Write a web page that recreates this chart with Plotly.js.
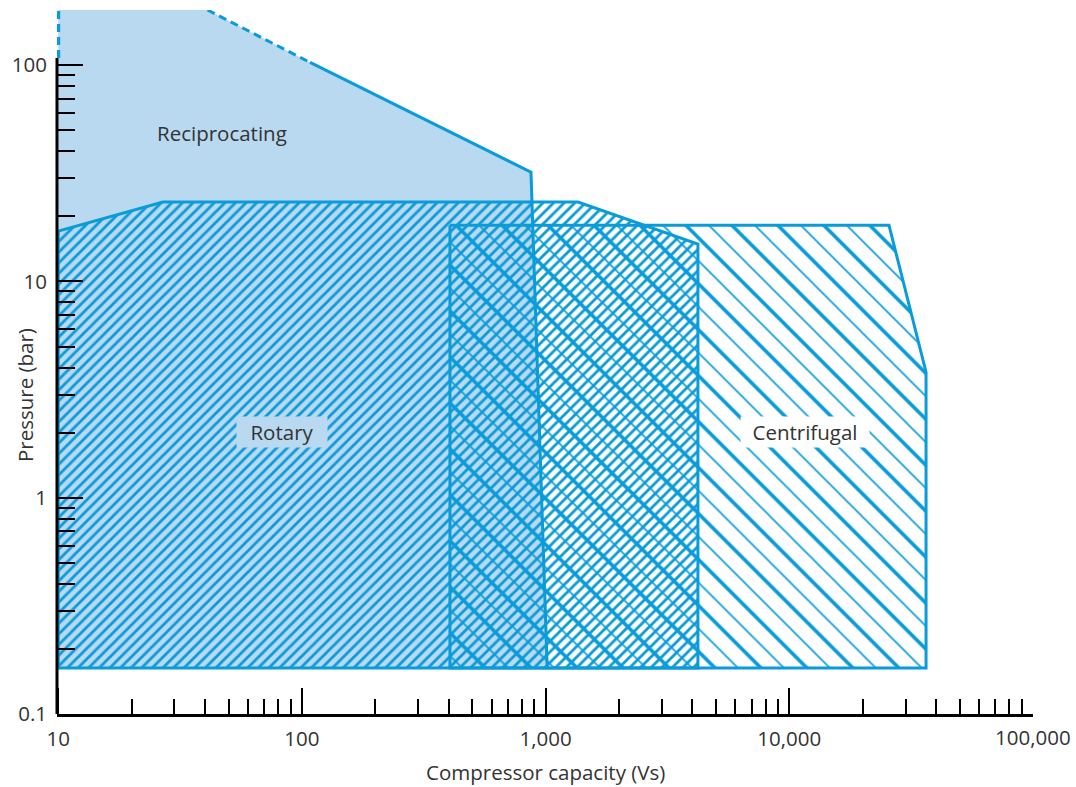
<!DOCTYPE html>
<html><head><meta charset="utf-8">
<script src="https://cdn.plot.ly/plotly-3.0.1.min.js"></script>
<style>html,body{margin:0;padding:0;background:#fff}#chart{width:1076px;height:787px}</style>
</head><body><div id="chart"></div>
<script>
// ---- data ----
// Reciprocating envelope: capacity (Vs) / pressure (bar)
const recipX = [10, 10, 41, 108, 871, 1015];
const recipY = [0.163, 180, 180, 103, 32, 0.163];
const recipLeftLimit = 108;   // pressure where the solid y-axis stops / dashed edge begins

// Rotary envelope
const rotaryX = [10, 26.9, 1358, 4217, 4217, 10, 10];
const rotaryY = [17.1, 23.3, 23.3, 14.9, 0.163, 0.163, 17.1];

// Centrifugal envelope
const centriX = [405, 25650, 36400, 36400, 405, 405];
const centriY = [18.2, 18.2, 3.81, 0.163, 0.163, 18.2];

// axis ticks
const xTickVals = [10, 100, 1000, 10000, 100000];
const xTickText = ['10', '100', '1,000', '10,000', '100,000'];
const yTickVals = [0.1, 1, 10, 100];
const yTickText = ['0.1', '1', '10', '100'];

// ---- styles ----
const BLUE = '#0a9bd9';
const LIGHT = '#b9d9f0';
const TXT = '#333333';
const FONT = 'Open Sans, Noto Sans, sans-serif';
const FS = 20.5;

function minorTicks(decades) {
  const out = [];
  decades.forEach(d => { for (let k = 2; k <= 9; k++) out.push(d * k); });
  return out;
}
const xMinor = minorTicks([10, 100, 1000, 10000]);
const yMinor = minorTicks([0.1, 1, 10]);

const traces = [];
// reciprocating solid fill
traces.push({
  x: recipX, y: recipY, type: 'scatter', mode: 'lines', fill: 'toself',
  fillcolor: LIGHT, line: {width: 0, color: LIGHT}, hoverinfo: 'skip'
});
// rotary hatch + outline
traces.push({
  x: rotaryX, y: rotaryY, type: 'scatter', mode: 'lines', fill: 'toself',
  fillcolor: 'rgba(0,0,0,0)',
  fillpattern: {shape: '/', size: 7.5, solidity: 0.38, fgcolor: BLUE, bgcolor: 'rgba(0,0,0,0)', fgopacity: 1},
  line: {width: 3, color: BLUE}, hoverinfo: 'skip'
});
// centrifugal thin hatch
traces.push({
  x: centriX, y: centriY, type: 'scatter', mode: 'lines', fill: 'toself',
  fillcolor: 'rgba(0,0,0,0)',
  fillpattern: {shape: '\\', size: 16.25, solidity: 0.1, fgcolor: BLUE, bgcolor: 'rgba(0,0,0,0)', fgopacity: 1},
  line: {width: 0, color: BLUE}, hoverinfo: 'skip'
});
// centrifugal thick hatch + outline
traces.push({
  x: centriX, y: centriY, type: 'scatter', mode: 'lines', fill: 'toself',
  fillcolor: 'rgba(0,0,0,0)',
  fillpattern: {shape: '\\', size: 32.5, solidity: 0.11, fgcolor: BLUE, bgcolor: 'rgba(0,0,0,0)', fgopacity: 1},
  line: {width: 3, color: BLUE}, hoverinfo: 'skip'
});
// reciprocating outline: dashed upper part, solid lower part
traces.push({
  x: [recipX[0], recipX[1]], y: [recipLeftLimit, recipY[1]], type: 'scatter', mode: 'lines',
  line: {width: 4, color: BLUE, dash: '8px,5px'}, hoverinfo: 'skip'
});
traces.push({
  x: [recipX[2], recipX[3]], y: [recipY[2], recipY[3]], type: 'scatter', mode: 'lines',
  line: {width: 3, color: BLUE, dash: '8px,5px'}, hoverinfo: 'skip'
});
traces.push({
  x: recipX.slice(3), y: recipY.slice(3), type: 'scatter', mode: 'lines',
  line: {width: 3, color: BLUE}, hoverinfo: 'skip'
});

const tickCommon = {ticks: 'inside', ticklen: 26, tickwidth: 2, tickcolor: '#000',
  showgrid: false, zeroline: false, fixedrange: true, automargin: false,
  tickfont: {family: FONT, size: FS, color: TXT}};

const layout = {
  width: 1076, height: 787,
  margin: {l: 57, r: 43, t: 10, b: 73},
  paper_bgcolor: '#ffffff', plot_bgcolor: 'rgba(0,0,0,0)',
  showlegend: false,
  font: {family: FONT, size: FS, color: TXT},
  xaxis: Object.assign({}, tickCommon, {
    type: 'log', range: [0.995, 5.0],
    showline: true, linecolor: '#000', linewidth: 3,
    tickmode: 'array', tickvals: xTickVals.slice(0, 4), ticktext: xTickText.slice(0, 4),
    ticklabelstandoff: 4,
    minor: {ticks: 'inside', ticklen: 15, tickwidth: 2, tickcolor: '#000', tickmode: 'array', tickvals: xMinor, showgrid: false}
  }),
  yaxis: Object.assign({}, tickCommon, {
    type: 'log', range: [-1, Math.log10(180)],
    showline: false,
    tickmode: 'array', tickvals: yTickVals, ticktext: yTickText,
    ticklabelstandoff: 9,
    minor: {ticks: 'inside', ticklen: 18, tickwidth: 2, tickcolor: '#000', tickmode: 'array', tickvals: yMinor, showgrid: false}
  }),
  shapes: [{
    type: 'line', layer: 'above', xref: 'paper', x0: 0, x1: 0, yref: 'y', y0: yTickVals[0], y1: recipLeftLimit,
    line: {color: '#000', width: 3}
  }],
  annotations: [
    {x: 1.672, y: 1.686, xref: 'x', yref: 'y', text: 'Reciprocating', showarrow: false,
     font: {family: FONT, size: FS, color: TXT}},
    {x: 1.918, y: 0.304, xref: 'x', yref: 'y', text: 'Rotary', showarrow: false,
     font: {family: FONT, size: FS, color: TXT}, bgcolor: LIGHT, width: 88, height: 28},
    {x: 4.064, y: 0.304, xref: 'x', yref: 'y', text: 'Centrifugal', showarrow: false,
     font: {family: FONT, size: FS, color: TXT}, bgcolor: '#ffffff', width: 126, height: 28},
    {x: Math.log10(xTickVals[4]), y: 0, xref: 'x', yref: 'paper', xanchor: 'center', yanchor: 'middle', yshift: -23,
     text: xTickText[4], showarrow: false, font: {family: FONT, size: FS, color: TXT}},
    {x: 0.5, y: 0, xref: 'paper', yref: 'paper', xanchor: 'center', yanchor: 'middle', yshift: -58,
     text: 'Compressor capacity (Vs)', showarrow: false, font: {family: FONT, size: FS, color: TXT}},
    {x: -0.0328, y: 0.453, xref: 'paper', yref: 'paper', xanchor: 'center', yanchor: 'middle',
     text: 'Pressure (bar)', textangle: -90,
     showarrow: false, font: {family: FONT, size: FS, color: TXT}}
  ]
};

Plotly.newPlot('chart', traces, layout, {staticPlot: true, displayModeBar: false});
</script>
</body></html>
